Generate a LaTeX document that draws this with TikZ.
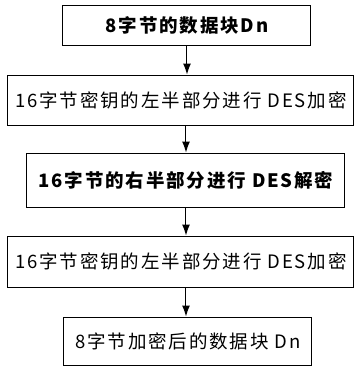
\documentclass[tikz,border=0pt]{standalone}
\usepackage{fontspec}
\setmainfont{Noto Sans CJK SC}[LetterSpace=10]
\usepackage{tikz}
\usetikzlibrary{arrows.meta,positioning}
\tikzset{%
	blockbox/.style = {draw, rectangle, line width=1pt, inner sep=0pt, text centered, font=\fontsize{18.5}{22}\selectfont},
	boldbox/.style  = {blockbox, font=\fontsize{18.5}{22}\selectfont\bfseries},
	arrow/.style    = {line width=1pt,-{Latex[length=11pt,width=8pt]}},
}

\begin{document}
\begin{tikzpicture}[x=1pt,y=-1pt]
	\useasboundingbox (0,0) rectangle (357,368);
	\node[boldbox, minimum width=248pt, minimum height=40pt] (data) at (187,25) {8字节的数据块Dn};
	\node[blockbox, minimum width=346pt, minimum height=50pt] (encl) at (181,100) {16字节密钥的左半部分进行 DES加密};
	\node[boldbox, minimum width=318pt, minimum height=54pt] (decr) at (186,180) {16字节的右半部分进行 DES解密};
	\node[blockbox, minimum width=346pt, minimum height=51pt] (encr) at (181,261.5) {16字节密钥的左半部分进行 DES加密};
	\node[blockbox, minimum width=248pt, minimum height=48pt] (result) at (188,341) {8字节加密后的数据块 Dn};
	
	\draw[arrow] (data.south) -- (data.south |- encl.north);
	\draw[arrow] (decr.north |- encl.south) -- (decr.north);
	\draw[arrow] (decr.south) -- (decr.south |- encr.north);
	\draw[arrow] (decr.south |- encr.south) -- (decr.south |- result.north);
\end{tikzpicture}
\end{document}
